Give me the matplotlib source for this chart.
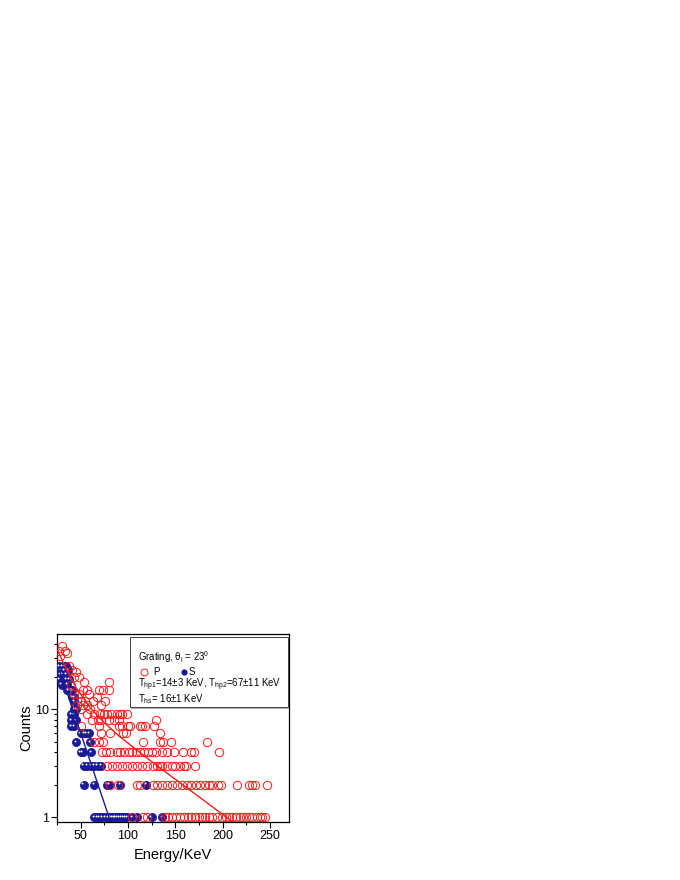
import matplotlib
matplotlib.use('Agg')
import matplotlib.pyplot as plt
from matplotlib.patches import Rectangle
from matplotlib.ticker import FixedLocator, NullFormatter, FixedFormatter
from matplotlib.transforms import offset_copy

plt.rcParams['font.family'] = ['Liberation Sans', 'DejaVu Sans']
plt.rcParams['mathtext.fontset'] = 'custom'
plt.rcParams['mathtext.rm'] = 'Liberation Sans'
plt.rcParams['mathtext.it'] = 'Liberation Sans:italic'

# P polarisation (red open circles): scattered points above 10 counts
p_top_energy = [30, 27, 33, 36, 28, 38, 41, 45, 43, 48, 54, 80, 40, 52, 57, 69, 74, 80,
                43, 48, 59, 67, 50, 55, 63, 76, 46, 52, 57, 71, 50, 60]
p_top_counts = [39, 35, 35, 33, 31, 25, 23, 22, 20, 20, 18, 18, 17, 15, 15, 15, 15, 15,
                14, 14, 14, 13, 12, 12, 12, 12, 11, 11, 11, 11, 10, 10]
# P polarisation: rows at integer counts
p_row_counts = [9, 8, 7, 6, 5, 4, 3, 2, 1]
p_row_energy = [
    [57, 64, 70, 75, 78, 82, 88, 92, 94, 99],
    [62, 68, 71, 80, 85, 90, 130],
    [50, 69, 90, 94, 100, 102, 113, 115, 118, 127],
    [71, 81, 95, 98, 134],
    [64, 69, 74, 116, 134, 137, 145, 183],
    [73, 77, 81, 88, 92, 96, 101, 104, 108, 113, 117, 121, 125, 130, 136, 141, 149,
     158, 167, 170, 196],
    [78, 83, 88, 94, 99, 104, 110, 115, 120, 126, 131, 134, 136, 141, 146, 150, 155,
     159, 161, 171],
    [81, 89, 110, 113, 126, 131, 136, 141, 146, 152, 157, 162, 167, 172, 176, 181, 186,
     189, 195, 198, 215, 228, 231, 234, 247],
    [104, 116, 120, 139, 142, 146, 151, 155, 159, 163, 166, 171, 175, 178, 181, 185, 189,
     194, 199, 204, 207, 210, 214, 218, 221, 225, 228, 231, 236, 239, 242, 245],
]

# S polarisation (blue filled circles)
s_top_energy = [27, 31, 34, 28, 33, 37, 28, 31, 35, 27, 35, 38, 30, 36, 36, 37, 40, 41,
                41, 43, 43, 43, 45, 40, 43, 40, 45, 40, 43]
s_top_counts = [25, 25, 25, 23, 23, 23, 21, 21, 21, 19, 19, 19, 17, 17, 15, 15, 15, 15,
                13, 13, 12, 10, 10, 9, 9, 8, 8, 7, 7]
s_row_counts = [6, 5, 4, 3, 2, 1]
s_row_energy = [
    [50, 54, 56, 59],
    [45, 60],
    [50, 52, 61],
    [53, 57, 61, 64, 68, 72],
    [53, 64, 78, 80, 92, 119],
    [64, 67, 70, 73, 76, 79, 81, 83, 85, 87, 89, 91, 93, 95, 97, 99, 104, 110, 125, 136],
]

# fit curves
p_fit_energy = [26, 35, 45, 60, 75, 90, 120, 150, 180, 212]
p_fit_counts = [35, 23.4, 16, 10.4, 7.5, 5.7, 3.53, 2.24, 1.43, 0.88]
s_fit_energy = [27, 82]
s_fit_counts = [24, 0.88]

p_e = p_top_energy + [e for row in p_row_energy for e in row]
p_c = p_top_counts + [c for c, row in zip(p_row_counts, p_row_energy) for e in row]
s_e = s_top_energy + [e for row in s_row_energy for e in row]
s_c = s_top_counts + [c for c, row in zip(s_row_counts, s_row_energy) for e in row]

red = '#ff1a1a'
navy = '#1a1a96'

fig = plt.figure(figsize=(6.8, 8.8), dpi=100)
ax = fig.add_axes([0.0838, 0.0659, 0.3412, 0.2136])

ax.plot(s_e, s_c, 'o', ms=5.8, mfc=navy, mec=navy, mew=0.6, zorder=3)
hl = offset_copy(ax.transData, fig=fig, x=-0.9, y=0.9, units='points')
ax.plot(s_e, s_c, 'o', ms=1.4, mfc='white', mec='none', transform=hl, zorder=3)
ax.plot(p_e, p_c, 'o', ms=6, mfc='none', mec=red, mew=0.7, zorder=4)

ax.plot(p_fit_energy, p_fit_counts, color=red, lw=1.0, zorder=5)
ax.plot(s_fit_energy, s_fit_counts, color=navy, lw=1.0, zorder=5)

ax.set_yscale('log')
ax.set_xlim(25, 270)
ax.set_ylim(0.9, 50)

ax.xaxis.set_major_locator(FixedLocator([50, 100, 150, 200, 250]))
ax.xaxis.set_minor_locator(FixedLocator([25, 75, 125, 175, 225]))
ax.yaxis.set_major_locator(FixedLocator([1, 10]))
ax.yaxis.set_major_formatter(FixedFormatter(['1', '10']))
ax.yaxis.set_minor_locator(FixedLocator([2, 3, 4, 5, 6, 7, 8, 9, 20, 30, 40]))
ax.yaxis.set_minor_formatter(NullFormatter())
ax.tick_params(which='both', direction='out', top=False, right=False, labelsize=9,
               width=0.8)
ax.tick_params(which='major', length=4, pad=2)
ax.tick_params(which='minor', length=2.5)
for s in ax.spines.values():
    s.set_linewidth(0.9)

ax.set_xlabel('Energy/KeV', fontsize=10.5, labelpad=4)
ax.set_ylabel('Counts', fontsize=10.5, labelpad=1)

# legend box
ax.add_patch(Rectangle((0.318, 0.607), 0.68, 0.373, transform=ax.transAxes,
                       facecolor='none', edgecolor='#b0b0b0', lw=0.8, zorder=6))
ax.add_patch(Rectangle((0.315, 0.613), 0.679, 0.373, transform=ax.transAxes,
                       facecolor='white', edgecolor='#404040', lw=0.7, zorder=6))
fs = 6.9
ax.text(0.35, 0.879, r'Grating, $\mathregular{\theta_i}$ = 23$\mathregular{^0}$',
        transform=ax.transAxes, fontsize=fs, va='center', zorder=7)
ax.plot([0.375], [0.8], 'o', ms=5, mfc='none', mec=red, mew=0.7,
        transform=ax.transAxes, zorder=7, clip_on=False)
ax.text(0.414, 0.8, 'P', transform=ax.transAxes, fontsize=fs, va='center', zorder=7)
ax.plot([0.548], [0.8], 'o', ms=3.5, mfc=navy, mec=navy,
        transform=ax.transAxes, zorder=7, clip_on=False)
ax.text(0.568, 0.8, 'S', transform=ax.transAxes, fontsize=fs, va='center', zorder=7)
ax.text(0.35, 0.729,
        r'T$\mathregular{_{hp1}}$=14±3 KeV, T$\mathregular{_{hp2}}$=67±11 KeV',
        transform=ax.transAxes, fontsize=fs, va='center', zorder=7)
ax.text(0.35, 0.656, r'T$\mathregular{_{hs}}$= 16±1 KeV',
        transform=ax.transAxes, fontsize=fs, va='center', zorder=7)

fig.savefig('out.png', dpi=100)
